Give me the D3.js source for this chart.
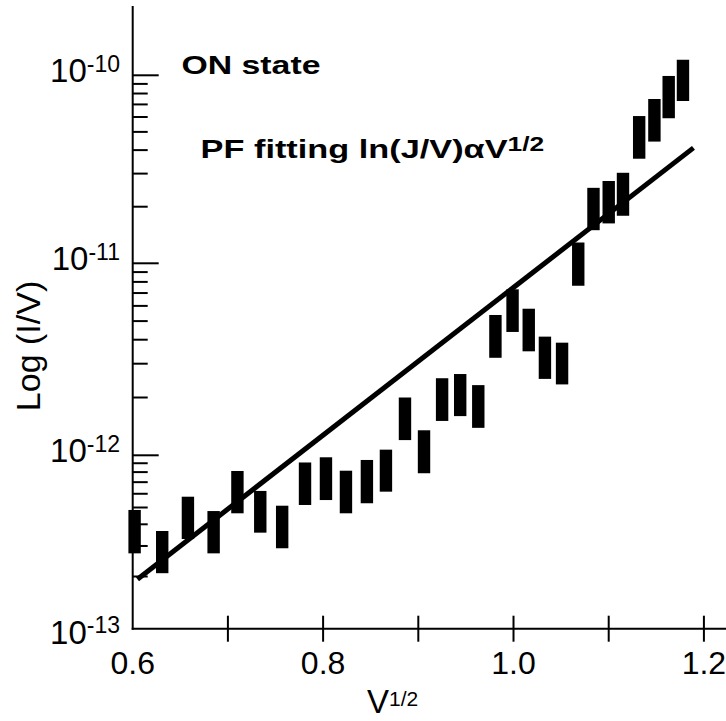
<!DOCTYPE html>
<html>
<head>
<meta charset="utf-8">
<script src="https://cdn.jsdelivr.net/npm/d3@7"></script>
<style>
  html, body { margin: 0; padding: 0; background: #fff; }
  svg { display: block; }
  text { font-family: "Liberation Sans", Arial, Helvetica, sans-serif; fill: #000; }
</style>
</head>
<body>
<svg id="chart" width="726" height="721"></svg>
<script>
// ---------------- data ----------------
const xTickValues = [0.6, 0.7, 0.8, 0.9, 1.0, 1.1, 1.2];
const xTickLabels = ["0.6", "", "0.8", "", "1.0", "", "1.2"];
const yMajorTicks = [1e-13, 1e-12, 1e-11, 1e-10];
const yTickExponents = ["-13", "-12", "-11", "-10"];
const yMinorMultipliers = [2, 3, 4, 5, 6, 7, 8, 9];

// V^(1/2) positions of each measured bar
const sqrtV = [0.602, 0.631, 0.658, 0.685, 0.710, 0.734, 0.757, 0.781, 0.803, 0.824,
               0.846, 0.866, 0.886, 0.906, 0.925, 0.944, 0.963, 0.981, 0.999, 1.016,
               1.033, 1.051, 1.068, 1.084, 1.100, 1.115, 1.132, 1.148, 1.163, 1.178];
// I/V lower and upper values of each bar
const ivLow  = [2.72e-13, 2.09e-13, 3.29e-13, 2.72e-13, 4.63e-13, 3.58e-13, 2.91e-13, 5.17e-13, 5.52e-13, 4.63e-13,
                5.29e-13, 6.17e-13, 1.20e-12, 7.88e-13, 1.51e-12, 1.60e-12, 1.39e-12, 3.22e-12, 4.39e-12, 3.48e-12,
                2.50e-12, 2.34e-12, 7.64e-12, 1.50e-11, 1.63e-11, 1.79e-11, 3.60e-11, 4.44e-11, 5.91e-11, 7.30e-11];
const ivHigh = [4.84e-13, 3.66e-13, 5.77e-13, 4.77e-13, 8.12e-13, 6.23e-13, 5.12e-13, 9.09e-13, 9.74e-13, 8.15e-13,
                9.40e-13, 1.07e-12, 2.00e-12, 1.35e-12, 2.52e-12, 2.65e-12, 2.32e-12, 5.38e-12, 7.32e-12, 5.80e-12,
                4.15e-12, 3.86e-12, 1.29e-11, 2.52e-11, 2.74e-11, 3.03e-11, 6.07e-11, 7.48e-11, 9.92e-11, 1.21e-10];
// PF fitting line end points
const fitX  = [0.605, 1.189];
const fitIV = [1.93e-13, 4.11e-11];

// ---------------- drawing ----------------
const svg = d3.select("#chart");

const x = d3.scaleLinear().domain([0.6, 1.2232]).range([132.7, 726]);
// decades in the original are not drawn with equal spacing
const y = d3.scaleLog()
  .domain([1e-13, 1e-12, 1e-11, 1e-10, 2.34e-10])
  .range([628.7, 455.3, 263.3, 75.3, 6]);

const x0 = x(0.6), yBottom = y(1e-13);

// data bars
const bars = sqrtV.map((v, i) => ({ v, lo: ivLow[i], hi: ivHigh[i] }));
const barW = 12.4;
svg.append("g").selectAll("rect").data(bars).join("rect")
  .attr("x", d => x(d.v) - barW / 2)
  .attr("y", d => y(d.hi))
  .attr("width", barW)
  .attr("height", d => y(d.lo) - y(d.hi))
  .attr("fill", "#000");

// fit line
const line = d3.line().x(d => x(d[0])).y(d => y(d[1]));
svg.append("path")
  .datum(fitX.map((v, i) => [v, fitIV[i]]))
  .attr("d", line)
  .attr("fill", "none")
  .attr("stroke", "#000")
  .attr("stroke-width", 5);

// axes
const axisG = svg.append("g").attr("stroke", "#000").attr("stroke-width", 2);
axisG.append("line").attr("x1", x0).attr("x2", x0).attr("y1", y.range()[4]).attr("y2", yBottom + 1);
axisG.append("line").attr("x1", x0 - 1).attr("x2", 726).attr("y1", yBottom).attr("y2", yBottom);

// y ticks (inward)
const minorTicks = [];
yMajorTicks.slice(0, 3).forEach(m => yMinorMultipliers.forEach(k => minorTicks.push(m * k)));
axisG.selectAll("line.minor").data(minorTicks).join("line").attr("class", "minor")
  .attr("x1", x0).attr("x2", x0 + 15)
  .attr("y1", d => y(d)).attr("y2", d => y(d));
axisG.selectAll("line.major").data(yMajorTicks.slice(1)).join("line").attr("class", "major")
  .attr("x1", x0).attr("x2", x0 + 26)
  .attr("y1", d => y(d)).attr("y2", d => y(d));

// x ticks (crossing)
axisG.selectAll("line.xt").data(xTickValues.slice(1)).join("line").attr("class", "xt")
  .attr("x1", d => x(d)).attr("x2", d => x(d))
  .attr("y1", yBottom - 13).attr("y2", yBottom + 13);

// y tick labels
yMajorTicks.forEach((v, i) => {
  const t = svg.append("text")
    .attr("x", 120)
    .attr("y", y(v) + (i === 0 ? 15 : 7))
    .attr("text-anchor", "end")
    .attr("font-size", 33);
  t.append("tspan").text("10");
  t.append("tspan").attr("font-size", 23).attr("dy", -10.5).text(yTickExponents[i]);
});

// x tick labels
svg.append("g").selectAll("text").data(xTickValues.map((v, i) => ({ v, l: xTickLabels[i] })).filter(d => d.l))
  .join("text")
  .attr("x", d => x(d.v))
  .attr("y", 674)
  .attr("text-anchor", "middle")
  .attr("font-size", 32)
  .text(d => d.l);

// axis titles
svg.append("text")
  .attr("transform", "translate(39.5,346) rotate(-90)")
  .attr("text-anchor", "middle")
  .attr("font-size", 34)
  .text("Log (I/V)");

const xt = svg.append("text").attr("x", 367).attr("y", 713).attr("font-size", 33);
xt.append("tspan").text("V");
xt.append("tspan").attr("font-size", 21).attr("dy", -7).text("1/2");

// annotations
svg.append("g").attr("transform", "translate(181.5,74) scale(1.3,1)")
  .append("text").attr("font-size", 26).attr("font-weight", "bold").text("ON state");

const pf = svg.append("g").attr("transform", "translate(200.6,158) scale(1.32,1)")
  .append("text").attr("font-size", 26).attr("font-weight", "bold");
pf.append("tspan").text("PF fitting ln(J/V)\u03B1V");
pf.append("tspan").attr("font-size", 20).attr("dy", -7).text("1/2");
</script>
</body>
</html>
